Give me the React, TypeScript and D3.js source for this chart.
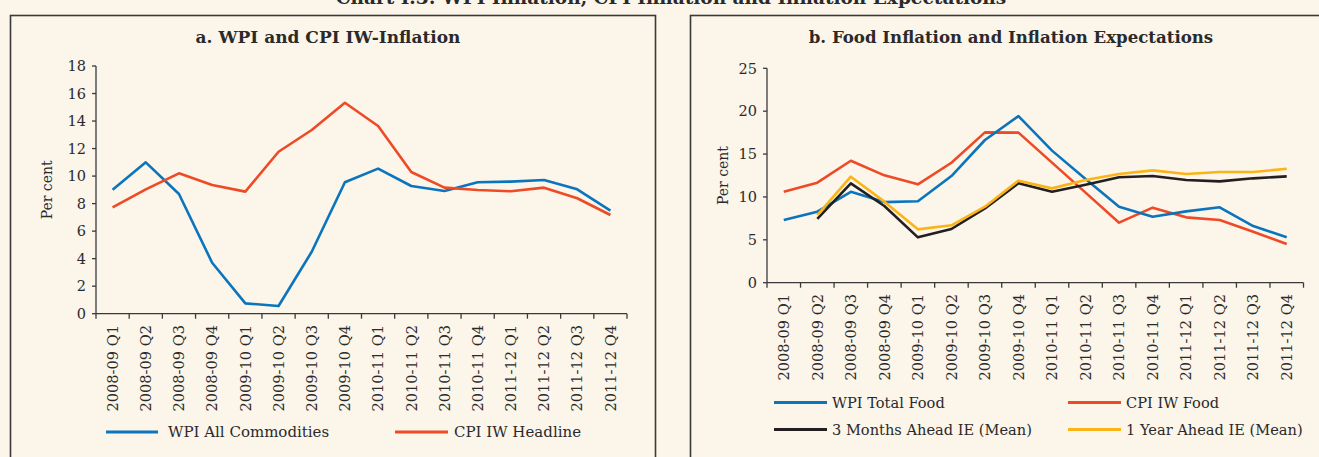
import React from "react";
import * as d3 from "d3";

const quarters = [
  "2008-09 Q1", "2008-09 Q2", "2008-09 Q3", "2008-09 Q4",
  "2009-10 Q1", "2009-10 Q2", "2009-10 Q3", "2009-10 Q4",
  "2010-11 Q1", "2010-11 Q2", "2010-11 Q3", "2010-11 Q4",
  "2011-12 Q1", "2011-12 Q2", "2011-12 Q3", "2011-12 Q4",
];

const wpiAll = [9.0, 11.0, 8.7, 3.7, 0.75, 0.56, 4.5, 9.55, 10.54, 9.28, 8.92, 9.55, 9.6, 9.72, 9.04, 7.49];
const cpiHeadline = [7.73, 9.04, 10.2, 9.35, 8.87, 11.77, 13.35, 15.33, 13.64, 10.3, 9.16, 8.99, 8.9, 9.16, 8.39, 7.17];

const wpiFood = [7.31, 8.28, 10.6, 9.4, 9.49, 12.44, 16.64, 19.43, 15.4, 12.1, 8.86, 7.7, 8.32, 8.79, 6.61, 5.29];
const cpiFood = [10.61, 11.66, 14.22, 12.52, 11.47, 13.99, 17.53, 17.5, 14.0, 10.5, 7.0, 8.75, 7.62, 7.31, 5.95, 4.51];
const ie3m: (number | null)[] = [null, 7.43, 11.59, 8.94, 5.29, 6.26, 8.67, 11.59, 10.61, 11.43, 12.29, 12.44, 11.97, 11.82, 12.17, 12.4];
const ie1y: (number | null)[] = [null, 7.89, 12.36, 9.45, 6.22, 6.69, 8.86, 11.9, 11.0, 11.97, 12.67, 13.1, 12.67, 12.9, 12.9, 13.29];

const ticksA = [0, 2, 4, 6, 8, 10, 12, 14, 16, 18];
const ticksB = [0, 5, 10, 15, 20, 25];

const BLUE = "#0a74bd";
const RED = "#ef4a26";
const BLACK = "#231f20";
const YELLOW = "#fbb417";
const BG = "#fbf5ea";
const AXIS = "#3a3a3a";
const FONT = "'DejaVu Serif', serif";

type Series = { name: string; values: (number | null)[]; color: string };

function Panel(props: {
  x0: number; x1: number; y0: number; y1: number; max: number; ticks: number[];
  series: Series[]; ylabelX: number; labelTop: number;
}) {
  const { x0, x1, y0, y1, max, ticks, series, ylabelX, labelTop } = props;
  const x = d3.scaleBand<string>().domain(quarters).range([x0, x1]).padding(0);
  const y = d3.scaleLinear().domain([0, max]).range([y0, y1]);
  const line = d3
    .line<number | null>()
    .defined((d) => d !== null)
    .x((_, i) => (x(quarters[i]) as number) + x.bandwidth() / 2)
    .y((d) => y(d as number));
  const bounds = quarters.map((q) => x(q) as number).concat([x1]);
  return (
    <g>
      <line x1={x0} x2={x0} y1={y0} y2={y1} stroke={AXIS} strokeWidth={1.3} />
      {ticks.map((t) => (
        <g key={t}>
          <line x1={x0 - 4} x2={x0} y1={y(t)} y2={y(t)} stroke={AXIS} strokeWidth={1.3} />
          <text x={x0 - 10} y={y(t)} dy="0.36em" textAnchor="end" fontSize={14.5} fill="#2a2a2a">
            {t}
          </text>
        </g>
      ))}
      <line x1={x0} x2={x1} y1={y0} y2={y0} stroke={AXIS} strokeWidth={1.3} />
      {bounds.map((b, i) => (
        <line key={i} x1={b} x2={b} y1={y0} y2={y0 + 5} stroke={AXIS} strokeWidth={1.3} />
      ))}
      {quarters.map((q) => (
        <text
          key={q}
          transform={`translate(${(x(q) as number) + x.bandwidth() / 2},${labelTop}) rotate(-90)`}
          dy="0.36em"
          textAnchor="end"
          fontSize={14.6}
          fill="#2a2a2a"
        >
          {q}
        </text>
      ))}
      <text
        transform={`translate(${ylabelX},${(y0 + y1) / 2}) rotate(-90)`}
        dy="0.36em"
        textAnchor="middle"
        fontSize={14}
        fill="#2a2a2a"
      >
        Per cent
      </text>
      {series.map((s) => (
        <path key={s.name} d={line(s.values) || ""} fill="none" stroke={s.color} strokeWidth={2.6} strokeLinejoin="round" />
      ))}
    </g>
  );
}

function Legend(props: { x: number; y: number; len: number; gap: number; color: string; label: string; size: number }) {
  const { x, y, len, gap, color, label, size } = props;
  return (
    <g>
      <line x1={x} x2={x + len} y1={y} y2={y} stroke={color} strokeWidth={3} />
      <text x={x + len + gap} y={y} dy="0.36em" fontSize={size} fill="#2a2a2a">
        {label}
      </text>
    </g>
  );
}

export default function App() {
  const seriesA: Series[] = [
    { name: "WPI All Commodities", values: wpiAll, color: BLUE },
    { name: "CPI IW Headline", values: cpiHeadline, color: RED },
  ];
  const seriesB: Series[] = [
    { name: "CPI IW Food", values: cpiFood, color: RED },
    { name: "WPI Total Food", values: wpiFood, color: BLUE },
    { name: "3 Months Ahead IE (Mean)", values: ie3m, color: BLACK },
    { name: "1 Year Ahead IE (Mean)", values: ie1y, color: YELLOW },
  ];
  return (
    <svg
      width={1319}
      height={457}
      style={{ position: "absolute", left: 0, top: 0, fontFamily: FONT }}
    >
      <rect x={0} y={0} width={1319} height={457} fill={BG} />
      <text x={671} y={4} textAnchor="middle" fontSize={18.5} fontWeight="bold" fill="#2a2a2a">
        Chart I.3: WPI Inflation, CPI Inflation and Inflation Expectations
      </text>
      <rect x={10.5} y={15.5} width={645} height={460} fill="none" stroke="#3a3a3a" strokeWidth={1.6} />
      <rect x={690.5} y={15.5} width={640} height={460} fill="none" stroke="#3a3a3a" strokeWidth={1.6} />
      <text x={328} y={43} textAnchor="middle" fontSize={17} fontWeight="bold" fill="#2a2a2a">
        a. WPI and CPI IW-Inflation
      </text>
      <text x={1011} y={43} textAnchor="middle" fontSize={16.6} fontWeight="bold" fill="#2a2a2a">
        b. Food Inflation and Inflation Expectations
      </text>
      <Panel x0={96} x1={627} y0={313.7} y1={66} max={18} ticks={ticksA} series={seriesA} ylabelX={47} labelTop={325} />
      <Panel x0={767} x1={1303.5} y0={282.7} y1={68.3} max={25} ticks={ticksB} series={seriesB} ylabelX={723} labelTop={294} />
      <Legend x={106} y={432} len={52} gap={10} color={BLUE} label="WPI All Commodities" size={15} />
      <Legend x={395} y={432} len={53} gap={6} color={RED} label="CPI IW Headline" size={15} />
      <Legend x={774} y={402.5} len={53} gap={5} color={BLUE} label="WPI Total Food" size={14.6} />
      <Legend x={1068} y={402.5} len={53} gap={5} color={RED} label="CPI IW Food" size={14.6} />
      <Legend x={774} y={429.5} len={53} gap={5} color={BLACK} label="3 Months Ahead IE (Mean)" size={14.6} />
      <Legend x={1068} y={429.5} len={53} gap={5} color={YELLOW} label="1 Year Ahead IE (Mean)" size={14.6} />
    </svg>
  );
}
